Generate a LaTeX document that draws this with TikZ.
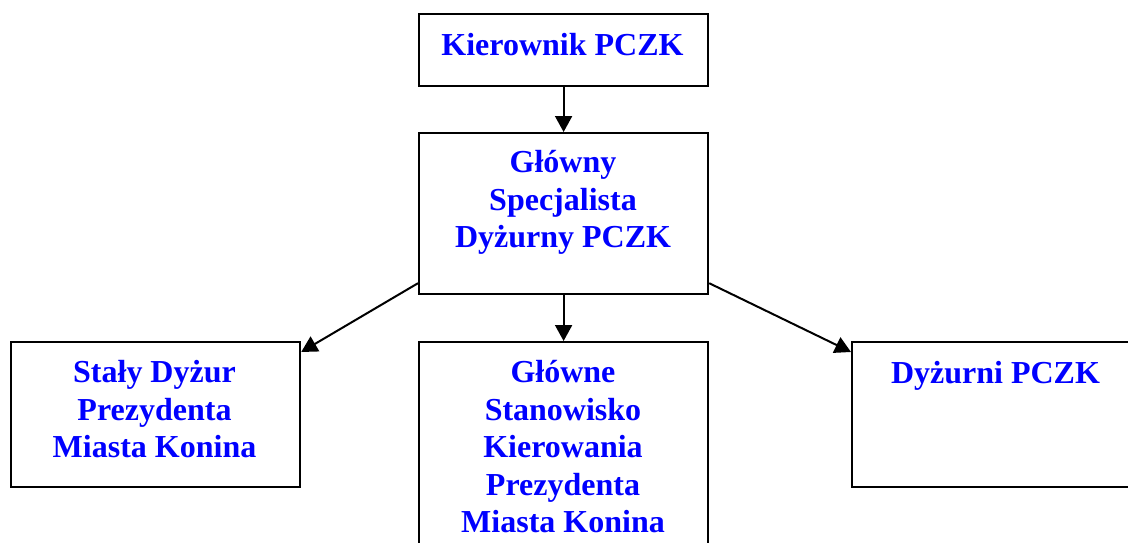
\documentclass[tikz,border=0pt]{standalone}
\usepackage{fontspec}
\setmainfont{Liberation Serif}
\usetikzlibrary{arrows.meta}
\definecolor{txtblue}{RGB}{0,0,255}
\begin{document}
\begin{tikzpicture}[x=1pt,y=-1pt,
  box/.style={draw, line width=2.2pt, inner sep=0pt, minimum width=289pt, anchor=north west},
  lbl/.style={text=txtblue, font=\fontsize{32}{37.5}\selectfont\bfseries, inner sep=0pt, anchor=base},
  arr/.style={line width=2pt, -{Triangle[length=16pt,width=17pt]}}]
\useasboundingbox (0,0) rectangle (1128,542);
\clip (0,0) rectangle (1128,542);
\node[box, minimum height=72pt] (k) at (418,13) {};
\node[box, minimum height=161pt] (g) at (418,132) {};
\node[box, minimum height=145pt] (s) at (10,341) {};
\node[box, minimum height=259pt] (m) at (418,341) {};
\node[box, minimum height=145pt] (d) at (851,341) {};
\node[lbl] (kt) at (562.5,55.5) {Kierownik PCZK};
\node[lbl] (gt) at (563,172.5) {\begin{tabular}[t]{@{}c@{}}Główny\\Specjalista\\Dyżurny PCZK\end{tabular}};
\node[lbl] (st) at (154.5,382.5) {\begin{tabular}[t]{@{}c@{}}Stały Dyżur\\Prezydenta\\Miasta Konina\end{tabular}};
\node[lbl] (mt) at (563,382.5) {\begin{tabular}[t]{@{}c@{}}Główne\\Stanowisko\\Kierowania\\Prezydenta\\Miasta Konina\end{tabular}};
\node[lbl] (dt) at (995.5,383) {Dyżurni PCZK};
\draw[arr] (k.south) -- (g.north);
\draw[arr] (g.south) -- (m.north);
\draw[arr] ([yshift=12pt]g.south west) -- ([yshift=-11pt]s.north east);
\draw[arr] ([yshift=12pt]g.south east) -- ([yshift=-11pt]d.north west);
\end{tikzpicture}
\end{document}
